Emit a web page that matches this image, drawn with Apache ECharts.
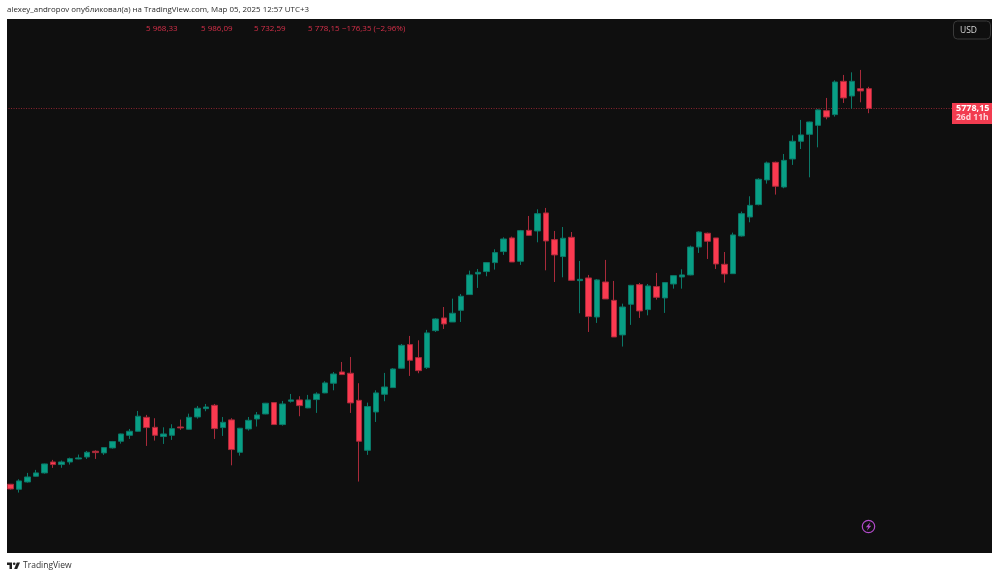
<!DOCTYPE html>
<html>
<head>
<meta charset="utf-8">
<style>html,body{margin:0;padding:0;background:#fff}#c{width:1000px;height:578px}</style>
<script src="https://cdn.jsdelivr.net/npm/echarts@6/dist/echarts.min.js"></script>
</head>
<body>
<div id="c"></div>
<script>
const categories = [
 '2016-10','2016-11','2016-12',
 '2017-01','2017-02','2017-03','2017-04','2017-05','2017-06','2017-07','2017-08','2017-09','2017-10','2017-11','2017-12',
 '2018-01','2018-02','2018-03','2018-04','2018-05','2018-06','2018-07','2018-08','2018-09','2018-10','2018-11','2018-12',
 '2019-01','2019-02','2019-03','2019-04','2019-05','2019-06','2019-07','2019-08','2019-09','2019-10','2019-11','2019-12',
 '2020-01','2020-02','2020-03','2020-04','2020-05','2020-06','2020-07','2020-08','2020-09','2020-10','2020-11','2020-12',
 '2021-01','2021-02','2021-03','2021-04','2021-05','2021-06','2021-07','2021-08','2021-09','2021-10','2021-11','2021-12',
 '2022-01','2022-02','2022-03','2022-04','2022-05','2022-06','2022-07','2022-08','2022-09','2022-10','2022-11','2022-12',
 '2023-01','2023-02','2023-03','2023-04','2023-05','2023-06','2023-07','2023-08','2023-09','2023-10','2023-11','2023-12',
 '2024-01','2024-02','2024-03','2024-04','2024-05','2024-06','2024-07','2024-08','2024-09','2024-10','2024-11','2024-12',
 '2025-01','2025-02','2025-03',
 '2025-04','2025-05','2025-06','2025-07','2025-08','2025-09','2025-10','2025-11','2025-12','2026-01','2026-02','2026-03','2026-04','2026-05'
];
const opens = [2170,2122,2192,2247,2279,2384,2359,2384,2413,2432,2487,2471,2519,2583,2640,2679,2813,2717,2628,2640,
 2720,2698,2816,2896,2928,2714,2788,2477,2701,2797,2845,2954,2743,2967,2980,2903,2983,3047,3140,3248,
 3236,2976,2496,2864,3034,3098,3284,3511,3386,3290,3645,3767,3728,3840,3991,4189,4212,4298,4404,4535,
 4311,4608,4602,4775,4519,4356,4541,4125,4151,3776,4112,3936,3604,3898,4087,3847,4068,3959,4093,4160,
 4180,4448,4580,4535,4282,4192,4554,4736,4855,5092,5261,5024,5293,5463,5530,5616,5757,5719,6039,5898,
 5968,5968.33];
const closes = [2125,2202,2240,2279,2365,2359,2384,2416,2423,2477,2474,2522,2580,2653,2679,2823,2714,2640,2653,2704,
 2711,2813,2900,2912,2704,2765,2503,2708,2784,2836,2948,2743,2941,2980,2925,2980,3037,3143,3229,3223,
 2951,2583,2916,3047,3104,3277,3504,3360,3261,3623,3757,3709,3812,3975,4180,4205,4298,4394,4525,4304,
 4605,4560,4768,4506,4372,4532,4128,4138,3780,4132,3949,3584,3872,4080,3834,4074,3965,4106,4173,4180,
 4448,4592,4503,4285,4189,4564,4768,4848,5098,5255,5031,5280,5463,5524,5648,5764,5696,6032,5879,6039,
 5946,5778.15];
const lows = [2119,2090,2186,2244,2272,2327,2328,2359,2410,2413,2413,2452,2512,2560,2605,2676,2538,2589,2557,2596,
 2692,2695,2800,2871,2605,2634,2352,2445,2685,2724,2842,2740,2733,2954,2823,2900,2855,3044,3072,3220,
 2855,2196,2452,2768,2967,3095,3280,3210,3236,3277,3632,3661,3728,3728,3988,4055,4167,4231,4372,4304,
 4276,4557,4493,4224,4112,4157,4125,3812,3632,3719,3949,3584,3492,3700,3767,3792,3943,3815,4048,4048,
 4176,4391,4333,4237,4106,4189,4548,4685,4848,5056,4951,5012,5236,5389,5117,5405,5674,5700,5831,5776,
 5837,5732.59];
const highs = [2173,2218,2279,2308,2368,2404,2398,2426,2455,2490,2496,2525,2586,2656,2701,2874,2836,2804,2717,2746,
 2791,2848,2922,2941,2941,2816,2804,2711,2816,2864,2951,2957,2970,3037,3015,3028,3053,3159,3248,3344,
 3392,3140,2954,3072,3239,3284,3517,3594,3552,3652,3764,3872,3952,3997,4221,4237,4304,4426,4541,4548,
 4612,4746,4810,4823,4602,4640,4592,4314,4180,4141,4324,4122,3904,4084,4103,4093,4199,4112,4176,4234,
 4461,4599,4586,4535,4400,4586,4788,4935,5108,5268,5268,5341,5520,5668,5652,5770,5879,6048,6100,6125,
 6148,5986.09];
const lastPrice = 5778.15;
const ohlcLabels = ['5 968,33','5 986,09','5 732,59','5 778,15','\u2212176,35 (\u22122,96%)'];
const ohlcX = [146,201,254,308,342];
const headerText = 'alexey_andropov опубликовал(а) на TradingView.com, Мар 05, 2025 12:57 UTC+3';

const UP = '#089f85', DOWN = '#fb3a50', UPW = '#0b7868', DOWNW = '#a92a3a';
const FONT = '"Open Sans", "Noto Sans", sans-serif';
const candles = opens.map((o,i)=>[o,closes[i],lows[i],highs[i]]);

const ohlcGraphics = ohlcLabels.map((t,i)=>({
  type:'text', x:ohlcX[i], y:25, z:100,
  style:{text:t, fill:'#d8304a', font:'8px '+FONT}
}));

const chart = echarts.init(document.getElementById('c'), null, {renderer:'canvas'});
chart.setOption({
  animation:false,
  backgroundColor:'#ffffff',
  grid:{left:6.05, top:19, width:986, height:534, containLabel:false},
  xAxis:{type:'category', data:categories, show:false, boundaryGap:true},
  yAxis:{type:'value', show:false, min:1510, max:6637, scale:true, splitLine:{show:false}},
  series:[{
    type:'candlestick', data:candles, barWidth:6, z:5,
    itemStyle:{color:UP, color0:DOWN, borderColor:UPW, borderColor0:DOWNW, borderWidth:1},
    markLine:{
      symbol:'none', silent:true, animation:false,
      label:{show:false},
      lineStyle:{color:'#8c2431', type:[1,1.5], width:1},
      data:[{yAxis:lastPrice}]
    }
  }],
  graphic:[
    {type:'rect', z:-10, shape:{x:7,y:19,width:985,height:534}, style:{fill:'#0f0f0f'}},
    {type:'rect', z:100, shape:{x:0,y:19,width:7,height:534}, style:{fill:'#ffffff'}},
    {type:'text', x:7, y:5.5, z:100, style:{text:headerText, fill:'#2a2a2a', font:'7.9px '+FONT}},
    ...ohlcGraphics,
    {type:'rect', z:100, shape:{x:953.5,y:21,width:37,height:18,r:4}, style:{fill:'#0f0f0f',stroke:'#3a3a3a',lineWidth:1}},
    {type:'text', x:960, y:26, z:101, style:{text:'USD', fill:'#d8d8d8', font:'8.5px '+FONT}},
    {type:'rect', z:100, shape:{x:952,y:103,width:40,height:21}, style:{fill:'#f23c50'}},
    {type:'text', x:956, y:103.5, z:101, style:{text:'5778,15', fill:'#ffffff', font:'bold 9px '+FONT}},
    {type:'text', x:956, y:113.5, z:101, style:{text:'26d 11h', fill:'#ffd5da', font:'bold 8.5px '+FONT}},
    {type:'circle', z:100, shape:{cx:868.5,cy:526.5,r:6.2}, style:{fill:'none',stroke:'#b04ac8',lineWidth:1.2}},
    {type:'polygon', z:100, shape:{points:[[870.3,522.2],[865.9,527.2],[868.2,527.2],[866.9,530.8],[871.3,525.7],[869,525.7]]}, style:{fill:'#b04ac8'}},
    {type:'polygon', z:100, shape:{points:[[7,562.5],[12,562.5],[12,569],[9.5,569],[9.5,565],[7,565]]}, style:{fill:'#222222'}},
    {type:'polygon', z:100, shape:{points:[[16.8,562.5],[20,562.5],[17.2,569],[14.2,569]]}, style:{fill:'#222222'}},
    {type:'circle', z:100, shape:{cx:14.2,cy:563.7,r:1.3}, style:{fill:'#222222'}},
    {type:'text', x:23, y:561, z:100, style:{text:'TradingView', fill:'#333333', font:'8.5px '+FONT}}
  ]
});
</script>
</body>
</html>
